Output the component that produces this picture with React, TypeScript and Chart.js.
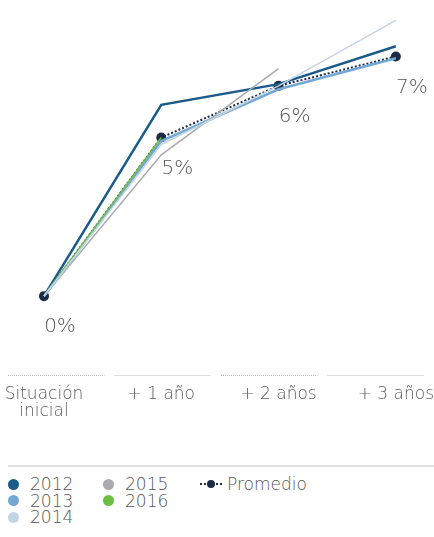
import React, { useEffect, useRef } from 'react';
import { Chart, registerables } from 'chart.js';

Chart.register(...registerables);

const categories: (string | string[])[] = [['Situación', 'inicial'], '+ 1 año', '+ 2 años', '+ 3 años'];
const s2012 = [0, 5.55, 6.15, 7.25];
const s2013 = [0, 4.5, 6.0, 6.9];
const s2014 = [0, 4.4, 6.1, 8.0];
const s2015 = [0, 4.1, 6.6, null];
const s2016 = [0, 4.6, null, null];
const promedio = [0, 4.6, 6.1, 6.95];
const promedioLabels = ['0%', '5%', '6%', '7%'];

const seriesNames = ['2012', '2013', '2014', '2015', '2016'];
const seriesColors = ['#1b5b8a', '#74a8d4', '#c2d5e3', '#a9acae', '#6cbf45'];
const avgColor = '#1c2a46';
const FONT = '"DejaVu Sans", sans-serif';

const labelPlugin = {
  id: 'avgLabels',
  afterDatasetsDraw(chart: any) {
    const idx = chart.data.datasets.findIndex((d: any) => d.label === 'Promedio');
    const meta = chart.getDatasetMeta(idx);
    const ctx = chart.ctx;
    ctx.save();
    ctx.font = `200 20px ${FONT}`;
    ctx.fillStyle = '#555';
    ctx.textAlign = 'center';
    ctx.textBaseline = 'middle';
    meta.data.forEach((pt: any, i: number) => {
      ctx.fillText(promedioLabels[i], pt.x + 16, pt.y + 31);
    });
    ctx.restore();
  },
};

const sepPlugin = {
  id: 'bandSeparators',
  afterDraw(chart: any) {
    const ctx = chart.ctx;
    const y = chart.chartArea.bottom + 3;
    const start = 8;
    const band = (chart.width - start) / 4;
    ctx.save();
    ctx.strokeStyle = '#bdbdbd';
    ctx.lineWidth = 1;
    ctx.setLineDash([1, 1]);
    for (let i = 0; i < 4; i++) {
      ctx.beginPath();
      ctx.moveTo(start + i * band, y + 0.5);
      ctx.lineTo(start + i * band + band - 10, y + 0.5);
      ctx.stroke();
    }
    ctx.restore();
  },
};

export default function App() {
  const ref = useRef<HTMLCanvasElement>(null);

  useEffect(() => {
    document.body.style.margin = '0';
    const series = [s2014, s2015, s2016, s2013, s2012];
    const order = [2, 3, 4, 1, 0];
    const widths = [1.5, 1.5, 1.5, 2.5, 2.5];
    const datasets: any[] = order.map((si, k) => ({
      label: seriesNames[si],
      data: series[k],
      borderColor: seriesColors[si],
      backgroundColor: seriesColors[si],
      borderWidth: widths[k],
      pointRadius: 0,
      tension: 0,
      fill: false,
      spanGaps: false,
    }));
    datasets.push({
      label: 'Promedio',
      data: promedio,
      borderColor: avgColor,
      backgroundColor: avgColor,
      borderWidth: 2,
      borderDash: [2, 2],
      pointRadius: 5,
      pointBorderWidth: 0,
      pointBackgroundColor: avgColor,
      tension: 0,
      fill: false,
    });

    const chart = new Chart(ref.current!, {
      type: 'line',
      data: { labels: categories, datasets },
      options: {
        animation: false,
        responsive: false,
        maintainAspectRatio: false,
        clip: false,
        layout: { padding: { left: 44, right: 38, top: 10, bottom: 0 } },
        plugins: { legend: { display: false }, tooltip: { enabled: false } },
        scales: {
          x: {
            offset: false,
            grid: { display: false, drawTicks: true, tickLength: 14 },
            border: { display: false },
            ticks: {
              padding: 0,
              color: '#5a5a5a',
              maxRotation: 0,
              autoSkip: false,
              font: { family: FONT, size: 17, weight: '200', lineHeight: 1.0 },
            },
          },
          y: { display: false, min: -2.2, max: 8.3 },
        },
      } as any,
      plugins: [labelPlugin, sepPlugin],
    });
    return () => chart.destroy();
  }, []);

  const legendRow = (i: number) => (
    <div key={i} style={{ display: 'flex', alignItems: 'center', height: 16.5 }}>
      <span
        style={{
          display: 'inline-block',
          width: 11,
          height: 11,
          borderRadius: '50%',
          background: seriesColors[i],
          marginRight: 11,
        }}
      />
      <span>{seriesNames[i]}</span>
    </div>
  );

  const colStyle: React.CSSProperties = {
    position: 'absolute',
    top: 476,
    fontSize: 17,
    fontWeight: 200,
    color: '#555',
    lineHeight: '16.5px',
  };

  return (
    <div style={{ position: 'relative', width: 434, height: 537, background: '#fff', fontFamily: FONT }}>
      <canvas ref={ref} width={434} height={420} style={{ display: 'block' }} />
      <div style={{ position: 'absolute', top: 465, left: 8, right: 0, height: 2, background: '#e2e2e2' }} />
      <div style={{ ...colStyle, left: 8 }}>{[0, 1, 2].map(legendRow)}</div>
      <div style={{ ...colStyle, left: 103 }}>{[3, 4].map(legendRow)}</div>
      <div style={{ ...colStyle, left: 200, display: 'flex', alignItems: 'center', height: 16.5 }}>
        <span style={{ position: 'relative', display: 'inline-block', width: 22, height: 8, marginRight: 5 }}>
          <span style={{ position: 'absolute', left: 0, right: 0, top: 3, borderTop: `2px dotted ${avgColor}` }} />
          <span style={{ position: 'absolute', left: 7, top: 0, width: 8, height: 8, borderRadius: '50%', background: avgColor }} />
        </span>
        <span>Promedio</span>
      </div>
    </div>
  );
}
